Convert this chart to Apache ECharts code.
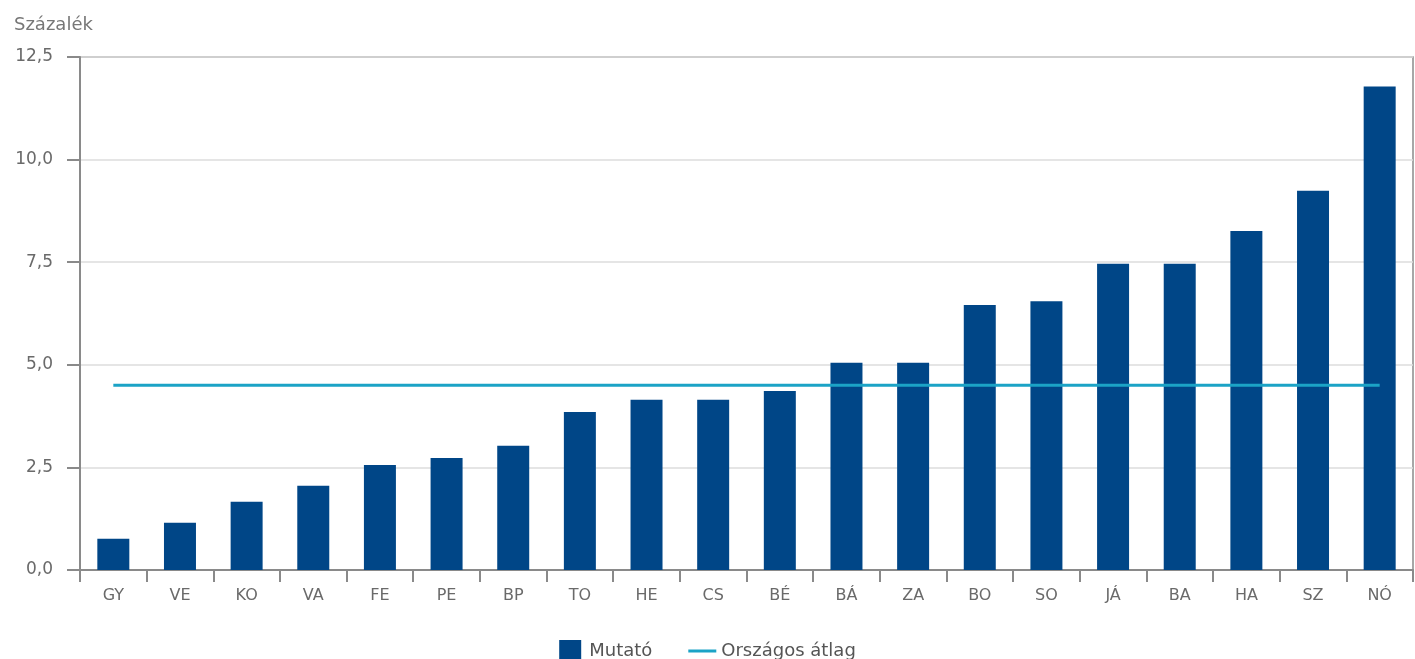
<!DOCTYPE html>
<html><head><meta charset="utf-8">
<script src="https://cdn.jsdelivr.net/npm/echarts@6/dist/echarts.min.js"></script>
<style>html,body{margin:0;padding:0;background:#fff}#c{width:1415px;height:659px}</style>
</head><body><div id="c"></div>
<script>
const categories = ['GY','VE','KO','VA','FE','PE','BP','TO','HE','CS','BÉ','BÁ','ZA','BO','SO','JÁ','BA','HA','SZ','NÓ'];
const mutato = [0.76,1.15,1.66,2.05,2.56,2.73,3.03,3.85,4.15,4.15,4.36,5.05,5.05,6.46,6.55,7.46,7.46,8.26,9.24,11.78];
const atlag = [4.5,4.5,4.5,4.5,4.5,4.5,4.5,4.5,4.5,4.5,4.5,4.5,4.5,4.5,4.5,4.5,4.5,4.5,4.5,4.5];
const yTicks = {min:0, max:12.5, interval:2.5};
const seriesNames = ['Mutató','Országos átlag'];
const unitLabel = 'Százalék';

const font = '"DejaVu Sans", Verdana, sans-serif';
const chart = echarts.init(document.getElementById('c'), null, {renderer:'canvas'});
chart.setOption({
  animation:false,
  backgroundColor:'#fff',
  textStyle:{fontFamily:font},
  title:{text:unitLabel,left:9,top:11,textStyle:{fontSize:18,fontWeight:'normal',color:'#777',fontFamily:font}},
  grid:{left:80,right:2,top:57,bottom:89,show:true,borderColor:'#8a8a8a',borderWidth:1.5,containLabel:false},
  legend:{top:635,left:'center',itemGap:36,itemWidth:28,itemHeight:22,
    textStyle:{fontSize:18,color:'#555',fontFamily:font,lineHeight:22},
    data:[{name:seriesNames[0],icon:'path://M0,0H22V22H0Z'},{name:seriesNames[1],icon:'path://M0,0H28V3H0Z'}]},
  xAxis:{type:'category',data:categories,boundaryGap:true,
    axisLine:{lineStyle:{color:'#8a8a8a',width:2}},
    axisTick:{show:true,length:12,lineStyle:{color:'#8a8a8a',width:2},alignWithLabel:false},
    axisLabel:{color:'#6a6a6a',fontSize:16,margin:18,fontFamily:font}},
  yAxis:{type:'value',min:yTicks.min,max:yTicks.max,interval:yTicks.interval,
    axisLine:{show:true,lineStyle:{color:'#8a8a8a',width:2}},
    axisTick:{show:true,length:13,lineStyle:{color:'#8a8a8a',width:2}},
    splitLine:{lineStyle:{color:'#dcdcdc',width:1.5}},
    axisLabel:{color:'#6a6a6a',fontSize:17,margin:27,fontFamily:font,
      formatter:v=>v.toFixed(1).replace('.',',')}},
  series:[
    {name:seriesNames[0],type:'bar',data:mutato,barWidth:'48%',itemStyle:{color:'#004687'},z:2},
    {name:seriesNames[1],type:'line',data:atlag,symbol:'none',showSymbol:false,
      lineStyle:{color:'#1ba3c6',width:3},itemStyle:{color:'#1ba3c6'},z:3}
  ]
});
</script></body></html>
